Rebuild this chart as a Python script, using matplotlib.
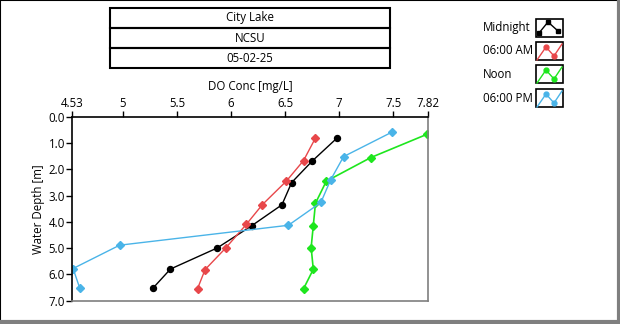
import matplotlib.pyplot as plt
from matplotlib.lines import Line2D
from matplotlib.patches import Rectangle

# dissolved oxygen profiles, one per sampling time
MID_DO = [6.98, 6.75, 6.56, 6.47, 6.19, 5.87, 5.44, 5.28]
MID_DEPTH = [0.8, 1.68, 2.5, 3.35, 4.15, 5.0, 5.8, 6.52]
AM_DO = [6.78, 6.67, 6.51, 6.29, 6.14, 5.95, 5.76, 5.69]
AM_DEPTH = [0.8, 1.66, 2.45, 3.34, 4.1, 5.0, 5.82, 6.55]
NOON_DO = [7.81, 7.29, 6.88, 6.78, 6.76, 6.74, 6.76, 6.67]
NOON_DEPTH = [0.66, 1.55, 2.45, 3.29, 4.14, 4.98, 5.81, 6.55]
PM_DO = [7.49, 7.04, 6.92, 6.83, 6.53, 4.97, 4.54, 4.6]
PM_DEPTH = [0.57, 1.51, 2.4, 3.26, 4.13, 4.89, 5.78, 6.51]

X_TICKS = [4.53, 5, 5.5, 6, 6.5, 7, 7.5, 7.82]
X_TICKLABELS = ['4.53', '5', '5.5', '6', '6.5', '7', '7.5', '7.82']
Y_TICKS = [0, 1, 2, 3, 4, 5, 6, 7]
TITLE_ROWS = ['City Lake', 'NCSU', '05-02-25']
SERIES_NAMES = ['Midnight', '06:00 AM', 'Noon', '06:00 PM']

BLACK = '#000000'
RED = '#e8474a'
GREEN = '#1ee61e'
BLUE = '#4ab4e8'
GRAY = '#7f7f7f'

plt.rcParams['font.family'] = ['Segoe UI', 'Open Sans', 'DejaVu Sans']
plt.rcParams['font.size'] = 8.3

W, H = 620, 324
fig = plt.figure(figsize=(W / 100, H / 100), dpi=100)


def fx(px):
    return px / W


def fy(py):
    return 1 - py / H


ax = fig.add_axes([fx(72), fy(300.5), fx(428) - fx(72), fy(117) - fy(300.5)])

ax.plot(MID_DO, MID_DEPTH, color=BLACK, lw=1, marker='o', ms=4.3)
ax.plot(AM_DO, AM_DEPTH, color=RED, lw=1, marker='D', ms=4)
ax.plot(NOON_DO, NOON_DEPTH, color=GREEN, lw=1.2, marker='D', ms=4)
ax.plot(PM_DO, PM_DEPTH, color=BLUE, lw=1, marker='D', ms=4)

ax.set_xlim(X_TICKS[0], X_TICKS[-1])
ax.set_ylim(7, 0)
ax.xaxis.tick_top()
ax.xaxis.set_label_position('top')
ax.set_xticks(X_TICKS)
ax.set_xticklabels(X_TICKLABELS)
ax.set_yticks(Y_TICKS)
ax.set_yticklabels([f'{v:.1f}' for v in Y_TICKS])
ax.tick_params(length=4, width=1, pad=1, colors='black')
ax.set_xlabel('DO Conc [mg/L]', labelpad=5)
ax.set_ylabel('Water Depth [m]', labelpad=3)
for side in ('top', 'left'):
    ax.spines[side].set_color('black')
    ax.spines[side].set_linewidth(1.2)
for side in ('bottom', 'right'):
    ax.spines[side].set_color(GRAY)
    ax.spines[side].set_linewidth(1.2)

# stacked title boxes
row_top = 8
for i, text in enumerate(TITLE_ROWS):
    y0 = row_top + 20 * i
    fig.add_artist(Rectangle((fx(110), fy(y0 + 20)), fx(390) - fx(110), fy(y0) - fy(y0 + 20),
                             transform=fig.transFigure, fill=False, ec='black', lw=1.5))
    fig.text(fx(250), fy(y0 + 10), text, ha='center', va='center')

# legend with small plot glyphs
legend_styles = [(BLACK, 's'), (RED, 'o'), (GREEN, 'o'), (BLUE, 'o')]
box_tops = [19, 42, 65, 89]
for name, (color, mk), top in zip(SERIES_NAMES, legend_styles, box_tops):
    fig.text(fx(483), fy(top + 9), name, ha='left', va='center')
    fig.add_artist(Rectangle((fx(536), fy(top + 18)), fx(563) - fx(536), fy(top) - fy(top + 18),
                             transform=fig.transFigure, fill=False, ec='black', lw=1.2))
    if mk == 's':
        px = [539, 548, 558]
        py = [top + 14, top + 3, top + 12]
        fig.add_artist(Line2D([fx(p) for p in px], [fy(p) for p in py],
                              transform=fig.transFigure, color=color, lw=1,
                              marker='s', ms=3))
    else:
        px = [537, 546, 554, 562]
        py = [top + 18, top + 5, top + 14, top + 2]
        fig.add_artist(Line2D([fx(p) for p in px], [fy(p) for p in py],
                              transform=fig.transFigure, color=color, lw=1))
        fig.add_artist(Line2D([fx(p) for p in px[1:3]], [fy(p) for p in py[1:3]],
                              transform=fig.transFigure, color=color, lw=0,
                              marker='o', ms=3.5))

# outer frame: dark top/left, heavy gray bottom/right
fig.add_artist(Line2D([0, 0], [0, 1], transform=fig.transFigure, color='black', lw=1.5))
fig.add_artist(Line2D([0, 1], [1, 1], transform=fig.transFigure, color='black', lw=1.5))
fig.add_artist(Line2D([fx(618.5), fx(618.5)], [0, 1], transform=fig.transFigure,
                      color=GRAY, lw=3))
fig.add_artist(Line2D([0, 1], [fy(321.5), fy(321.5)], transform=fig.transFigure,
                      color=GRAY, lw=3))

fig.savefig('out.png', dpi=100)
